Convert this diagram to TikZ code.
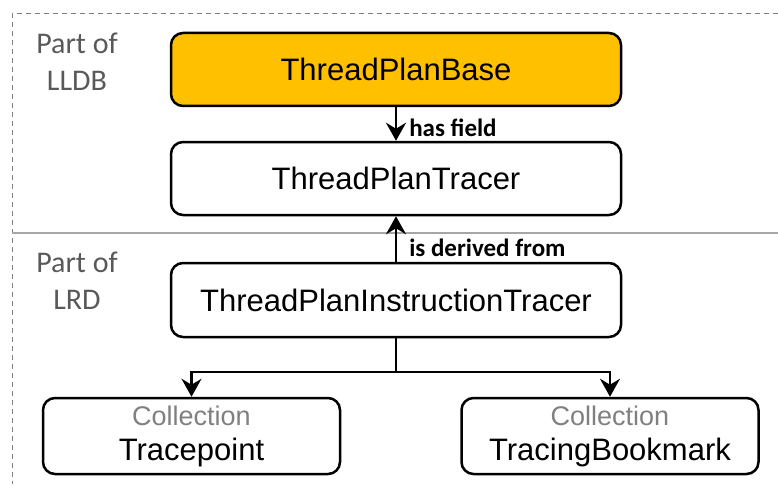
\documentclass[tikz,border=0pt]{standalone}
\usepackage{fontspec}
\setmainfont{Liberation Sans}
\newfontfamily\labelfont{Carlito}
\usetikzlibrary{arrows.meta}
\usepackage{xcolor}
\definecolor{baseorange}{HTML}{FFC000}
\definecolor{partgray}{HTML}{595959}
\definecolor{collgray}{HTML}{808080}
\definecolor{framegray}{HTML}{7F7F7F}
\definecolor{splitgray}{HTML}{A6A6A6}

\begin{document}
\begin{tikzpicture}[x=1pt, y=-1pt]
        % ================= 样式定义 =================
        \tikzset{
            % 类框:圆角矩形
            classbox/.style={draw=black, line width=2.5pt, rounded corners=12pt, fill=white, align=center,
                font=\fontsize{31}{35}\selectfont, minimum width=450pt, minimum height=73pt, inner sep=0pt},
            % 基类(高亮)
            basebox/.style={classbox, fill=baseorange},
            % 集合框
            collbox/.style={classbox, minimum width=297pt, minimum height=76pt},
            % 区域说明文字
            partnote/.style={align=center, text=partgray, font=\labelfont\fontsize{30}{37}\selectfont},
            % 连边标签
            relnote/.style={font=\labelfont\bfseries\fontsize{25}{28}\selectfont, inner sep=0pt, xshift=12pt},
            % 连边
            edge/.style={line width=2.5pt, black},
            arrow/.style={edge, -{Stealth[length=18pt, width=20pt, inset=6pt]}}
        }
        \useasboundingbox (0,0) rectangle (778,484);

        % ================= 1. 区域边框 =================
        \draw[framegray, line width=1pt, dash pattern=on 5pt off 4pt] (778,14) -- (12,14) -- (12,484);
        \draw[splitgray, line width=1.5pt] (12,233) -- (778,233);

        \node[partnote] (lldb) at (77,62) {Part of\\LLDB};
        \node[partnote] (lrd) at (77,281) {Part of\\LRD};

        % ================= 2. 类节点 =================
        \node[basebox] (base) at (396,69.5) {ThreadPlanBase};
        \node[classbox] (tracer) at (396,178.5) {ThreadPlanTracer};
        \node[classbox, minimum height=74pt] (instr) at (396,300) {ThreadPlanInstructionTracer};

        \node[collbox] (tpoint) at (191.5,436) {{\color{collgray}\fontsize{27}{35}\selectfont Collection}\\Tracepoint};
        \node[collbox] (bmark) at (610,436) {{\color{collgray}\fontsize{27}{35}\selectfont Collection}\\TracingBookmark};

        \coordinate (fork) at (396,372);

        % ================= 3. 绘制边 =================
        \draw[arrow] (base) -- node[relnote, right, pos=0.6] {has field} (tracer);
        \draw[arrow] (instr) -- node[relnote, right, pos=0.3] {is derived from} (tracer);

        % --- 分叉到两个集合 ---
        \draw[edge] (instr) -- (fork);
        \draw[arrow] (fork) -| (tpoint);
        \draw[arrow] (fork) -| (bmark);

    \end{tikzpicture}
\end{document}
